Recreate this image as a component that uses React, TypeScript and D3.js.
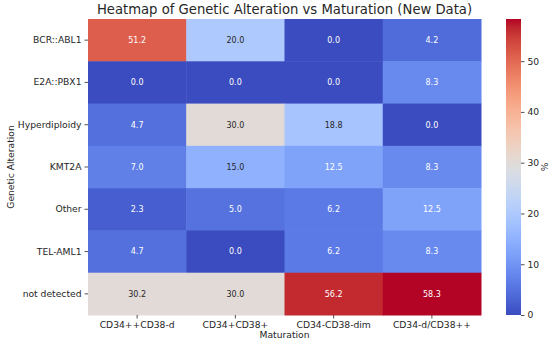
import { useEffect, useRef } from 'react';
import * as d3 from 'd3';

const rows = ['BCR::ABL1', 'E2A::PBX1', 'Hyperdiploidy', 'KMT2A', 'Other', 'TEL-AML1', 'not detected'];
const cols = ['CD34++CD38-d', 'CD34+CD38+', 'CD34-CD38-dim', 'CD34-d/CD38++'];
const values = [
  [51.2, 20.0, 0.0, 4.2],
  [0.0, 0.0, 0.0, 8.3],
  [4.7, 30.0, 18.8, 0.0],
  [7.0, 15.0, 12.5, 8.3],
  [2.3, 5.0, 6.2, 12.5],
  [4.7, 0.0, 6.2, 8.3],
  [30.2, 30.0, 56.2, 58.3],
];
const cbarTicks = [0, 10, 20, 30, 40, 50];

// coolwarm control points
const coolwarm = [
  '#3b4cc0', '#445acc', '#4d68d7', '#5775e1', '#6282ea', '#6c8ef1', '#779af7', '#82a5fb',
  '#8db0fe', '#98b9ff', '#a3c2ff', '#aec9fd', '#b8d0f9', '#c2d5f4', '#ccd9ee', '#d5dbe6',
  '#dddddd', '#e5d8d1', '#ecd3c5', '#f1ccb9', '#f5c4ad', '#f7bba0', '#f7b194', '#f7a687',
  '#f49a7b', '#f18d6f', '#ec7f63', '#e57058', '#de604d', '#d55042', '#cb3e38', '#c0282f',
  '#b40426',
];

const App = () => {
  const ref = useRef<SVGSVGElement>(null);
  const width = 550;
  const height = 345;
  const margin = { left: 88, right: 69, top: 19, bottom: 30 };

  useEffect(() => {
    if (!ref.current) return;
    const svg = d3.select(ref.current);
    svg.selectAll('*').remove();
    svg.style('font-family', '"DejaVu Sans", sans-serif');

    const vmax = d3.max(values.flat()) as number;
    const interp = d3.interpolateRgbBasis(coolwarm);
    const color = (v: number) => interp(v / vmax);

    const x = d3.scaleBand().domain(cols).range([margin.left, width - margin.right]);
    const y = d3.scaleBand().domain(rows).range([margin.top, height - margin.bottom]);

    const cells = rows.flatMap((r, i) => cols.map((c, j) => ({ r, c, v: values[i][j] })));

    const lum = (col: string) => {
      const rgb = d3.rgb(col);
      const f = (u: number) => {
        const s = u / 255;
        return s <= 0.03928 ? s / 12.92 : Math.pow((s + 0.055) / 1.055, 2.4);
      };
      return 0.2126 * f(rgb.r) + 0.7152 * f(rgb.g) + 0.0722 * f(rgb.b);
    };

    svg
      .append('g')
      .selectAll('rect')
      .data(cells)
      .enter()
      .append('rect')
      .attr('x', (d) => x(d.c) as number)
      .attr('y', (d) => y(d.r) as number)
      .attr('width', x.bandwidth() + 0.5)
      .attr('height', y.bandwidth() + 0.5)
      .attr('fill', (d) => color(d.v));

    svg
      .append('g')
      .selectAll('text')
      .data(cells)
      .enter()
      .append('text')
      .attr('x', (d) => (x(d.c) as number) + x.bandwidth() / 2)
      .attr('y', (d) => (y(d.r) as number) + y.bandwidth() / 2)
      .attr('dy', '0.35em')
      .attr('text-anchor', 'middle')
      .style('font-size', '8px')
      .attr('fill', (d) => (lum(color(d.v)) > 0.408 ? '#262626' : '#ffffff'))
      .text((d) => d.v.toFixed(1));

    const xAxis = svg
      .append('g')
      .attr('transform', `translate(0, ${height - margin.bottom})`)
      .call(d3.axisBottom(x).tickSize(3.5).tickPadding(3));
    const yAxis = svg
      .append('g')
      .attr('transform', `translate(${margin.left}, 0)`)
      .call(d3.axisLeft(y).tickSize(3.5).tickPadding(3));
    [xAxis, yAxis].forEach((g) => {
      g.select('.domain').remove();
      g.selectAll('line').attr('stroke', '#262626').attr('stroke-width', 0.8);
      g.selectAll('text').style('font-size', '9.2px').style('font-family', '"DejaVu Sans", sans-serif').attr('fill', '#262626');
    });

    // colorbar
    const cbX = 506;
    const cbW = 15;
    const cy = d3.scaleLinear().domain([0, vmax]).range([height - margin.bottom, margin.top]);
    const defs = svg.append('defs');
    const grad = defs
      .append('linearGradient')
      .attr('id', 'cbar')
      .attr('x1', 0)
      .attr('y1', 1)
      .attr('x2', 0)
      .attr('y2', 0);
    coolwarm.forEach((c, i) => {
      grad
        .append('stop')
        .attr('offset', i / (coolwarm.length - 1))
        .attr('stop-color', c);
    });
    svg
      .append('rect')
      .attr('x', cbX)
      .attr('y', margin.top)
      .attr('width', cbW)
      .attr('height', height - margin.bottom - margin.top)
      .attr('fill', 'url(#cbar)');
    const cAxis = svg
      .append('g')
      .attr('transform', `translate(${cbX + cbW}, 0)`)
      .call(d3.axisRight(cy).tickValues(cbarTicks).tickSize(3.5).tickPadding(3).tickFormat(d3.format('d')));
    cAxis.select('.domain').remove();
    cAxis.selectAll('line').attr('stroke', '#262626').attr('stroke-width', 0.8);
    cAxis.selectAll('text').style('font-size', '9.2px').style('font-family', '"DejaVu Sans", sans-serif').attr('fill', '#262626');

    svg
      .append('text')
      .attr('transform', `translate(545, ${(margin.top + height - margin.bottom) / 2}) rotate(-90)`)
      .attr('text-anchor', 'middle')
      .attr('dy', '0.35em')
      .style('font-size', '9.2px')
      .attr('fill', '#262626')
      .text('%');

    svg
      .append('text')
      .attr('x', (margin.left + width - margin.right) / 2)
      .attr('y', 13.5)
      .attr('text-anchor', 'middle')
      .style('font-size', '13.2px')
      .attr('fill', '#262626')
      .text('Heatmap of Genetic Alteration vs Maturation (New Data)');

    svg
      .append('text')
      .attr('x', (margin.left + width - margin.right) / 2)
      .attr('y', 338)
      .attr('text-anchor', 'middle')
      .style('font-size', '9.2px')
      .attr('fill', '#262626')
      .text('Maturation');

    svg
      .append('text')
      .attr('transform', `translate(14, ${(margin.top + height - margin.bottom) / 2}) rotate(-90)`)
      .attr('text-anchor', 'middle')
      .style('font-size', '9.2px')
      .attr('fill', '#262626')
      .text('Genetic Alteration');
  }, []);

  return (
    <div style={{ position: 'absolute', left: 0, top: 0 }}>
      <svg ref={ref} width={width} height={height} />
    </div>
  );
};

export default App;
